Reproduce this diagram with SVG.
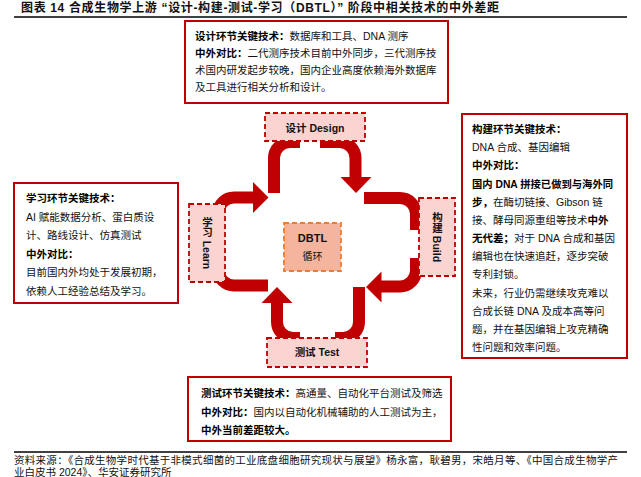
<svg xmlns="http://www.w3.org/2000/svg" width="641" height="477" viewBox="0 0 641 477">
<style>
text{font-family:"Liberation Sans","Noto Sans CJK SC",sans-serif;fill:#111;}
.t{font-size:10.5px;}
.b{font-weight:bold;fill:#000;}
.info{fill:#fff;stroke:#c00000;stroke-width:2;}
.node{fill:#fbd3d1;stroke:#c00000;stroke-width:1.8;stroke-dasharray:5 3;}
.lbl{font-size:10.5px;font-weight:bold;fill:#111;}
.bar{fill:none;stroke:#c00000;stroke-width:12;}
.head{fill:#c00000;}
.vt{writing-mode:vertical-rl;}
</style>

<text x="21" y="12" font-size="12" font-weight="bold" fill="#000" textLength="478" lengthAdjust="spacing">图表 14 合成生物学上游 “设计-构建-测试-学习（DBTL）” 阶段中相关技术的中外差距</text>
<line x1="14" y1="17" x2="627" y2="17" stroke="#000" stroke-width="1.5"/>

<g id="connectors">
  <path class="bar" d="M253 197.5 L234 197.5 A16 16 0 0 0 218 213.5 L218 226"/>
  <polygon class="head" points="253,182 268.5,197.5 253,213"/>
  <path class="bar" d="M300 142 L290 142 A16 16 0 0 0 274 158 L274 193"/>
  <path class="bar" d="M320 142 L339.5 142 A16 16 0 0 1 355.5 158 L355.5 178"/>
  <polygon class="head" points="340.5,177 371.5,177 356,193"/>
  <path class="bar" d="M364 198 L400 198 A16 16 0 0 1 416 214 L416 230"/>
  <path class="bar" d="M381 286.5 L400 286.5 A16 16 0 0 0 416 270.5 L416 258"/>
  <polygon class="head" points="381.5,271.5 381.5,302.5 366,287"/>
  <path class="bar" d="M359 287 L359 322 A16 16 0 0 1 343 338 L335 338"/>
  <path class="bar" d="M277 302 L277 322 A16 16 0 0 0 293 338 L300 338"/>
  <polygon class="head" points="261.5,303 292.5,303 277,287"/>
  <path class="bar" d="M268 285.5 L234 285.5 A16 16 0 0 1 218 269.5 L218 258"/>
</g>

<g id="design">
  <rect class="node" x="265" y="113" width="100" height="28"/>
  <text class="lbl" x="315" y="131.5" text-anchor="middle">设计 Design</text>
</g>
<g id="build">
  <rect class="node" x="419" y="198" width="36" height="78"/>
  <text class="lbl vt" x="437" y="237" text-anchor="middle">构建 Build</text>
</g>
<g id="test">
  <rect class="node" x="267" y="338" width="100" height="29"/>
  <text class="lbl" x="317" y="356" text-anchor="middle">测试 Test</text>
</g>
<g id="learn">
  <rect class="node" x="189" y="204" width="36" height="78"/>
  <text class="lbl vt" x="207" y="243" text-anchor="middle">学习 Learn</text>
</g>
<g id="dbtl">
  <rect x="284" y="223" width="57" height="48" fill="#f4b49e" stroke="#ed7d31" stroke-width="1.8" stroke-dasharray="5 3"/>
  <text x="312.5" y="242" text-anchor="middle" font-size="11" font-weight="bold" fill="#111">DBTL</text>
  <text x="312.5" y="259.5" text-anchor="middle" font-size="10" fill="#111">循环</text>
</g>

<g id="design-info">
  <rect class="info" x="185" y="21" width="263" height="82"/>
  <text class="t" x="195" y="40"><tspan class="b">设计环节关键技术：</tspan>数据库和工具、DNA 测序</text>
  <text class="t" x="195" y="57"><tspan class="b">中外对比：</tspan>二代测序技术目前中外同步，三代测序技</text>
  <text class="t" x="195" y="74">术国内研发起步较晚，国内企业高度依赖海外数据库</text>
  <text class="t" x="195" y="91">及工具进行相关分析和设计。</text>
</g>

<g id="build-info">
  <rect class="info" x="462" y="114" width="165" height="244"/>
  <text class="t b" x="472" y="133">构建环节关键技术：</text>
  <text class="t" x="472" y="151">DNA 合成、基因编辑</text>
  <text class="t b" x="472" y="169">中外对比：</text>
  <text class="t b" x="472" y="187.5" textLength="141" lengthAdjust="spacingAndGlyphs">国内 DNA 拼接已做到与海外同</text>
  <text class="t" x="472" y="205.5"><tspan class="b">步，</tspan>在酶切链接、Gibson 链</text>
  <text class="t" x="472" y="224">接、酵母同源重组等技术<tspan class="b">中外</tspan></text>
  <text class="t" x="472" y="242"><tspan class="b">无代差；</tspan>对于 DNA 合成和基因</text>
  <text class="t" x="472" y="260">编辑也在快速追赶，逐步突破</text>
  <text class="t" x="472" y="278">专利封锁。</text>
  <text class="t" x="472" y="296.5">未来，行业仍需继续攻克难以</text>
  <text class="t" x="472" y="314.5">合成长链 DNA 及成本高等问</text>
  <text class="t" x="472" y="333">题，并在基因编辑上攻克精确</text>
  <text class="t" x="472" y="351">性问题和效率问题。</text>
</g>

<g id="learn-info">
  <rect class="info" x="14" y="183" width="164" height="120"/>
  <text class="t b" x="26" y="202">学习环节关键技术：</text>
  <text class="t" x="26" y="220.5">AI 赋能数据分析、蛋白质设</text>
  <text class="t" x="26" y="239">计、路线设计、仿真测试</text>
  <text class="t b" x="26" y="257.5">中外对比：</text>
  <text class="t" x="26" y="276">目前国内外均处于发展初期，</text>
  <text class="t" x="26" y="294.5">依赖人工经验总结及学习。</text>
</g>

<g id="test-info">
  <rect class="info" x="188" y="377" width="263" height="64"/>
  <text class="t" x="201" y="397"><tspan class="b">测试环节关键技术：</tspan>高通量、自动化平台测试及筛选</text>
  <text class="t" x="201" y="415.5"><tspan class="b">中外对比：</tspan>国内以自动化机械辅助的人工测试为主，</text>
  <text class="t b" x="201" y="434">中外当前差距较大。</text>
</g>

<line x1="14" y1="452" x2="627" y2="452" stroke="#000" stroke-width="1.5"/>
<text x="14" y="464" font-size="10.5" textLength="604" lengthAdjust="spacing">资料来源：《合成生物学时代基于非模式细菌的工业底盘细胞研究现状与展望》杨永富，耿碧男，宋皓月等、《中国合成生物学产</text>
<text x="14" y="475.5" font-size="10.5">业白皮书 2024》、华安证券研究所</text>
</svg>
